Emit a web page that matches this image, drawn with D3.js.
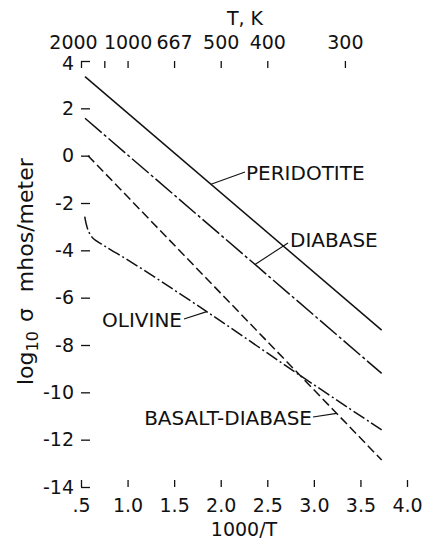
<!DOCTYPE html>
<html>
<head>
<meta charset="utf-8">
<script src="https://cdn.jsdelivr.net/npm/d3@7"></script>
<style>
  body { margin: 0; background: #fff; }
  svg text { font-family: "DejaVu Sans", sans-serif; fill: #111; }
  .axis path.domain { display: none; }
  .axis line { stroke: #111; stroke-width: 1.3; }
  .series { fill: none; stroke: #111; stroke-width: 1.5; }
</style>
</head>
<body>
<div id="chart"></div>
<script>
'use strict';

// series, x = 1000/T, y = log10 sigma
const peridotite = [[0.543, 3.34], [3.728, -7.37]];
const diabase = [[0.543, 1.58], [3.728, -9.20]];
const basaltDiabase = [[0.575, 0.0], [3.728, -12.86]];
const olivine = [
    [0.54, -2.58], [0.575, -3.14], [0.629, -3.49], [0.736, -3.77],
    [0.825, -3.99], [1.005, -4.41], [1.85, -6.59], [2.816, -9.19], [3.728, -11.59]
];

const xTicks = [0.5, 1.0, 1.5, 2.0, 2.5, 3.0, 3.5, 4.0];
const xTickLabels = ['.5', '1.0', '1.5', '2.0', '2.5', '3.0', '3.5', '4.0'];
const yTicks = [4, 2, 0, -2, -4, -6, -8, -10, -12, -14];
const topT = [2000, 1333, 1000, 667, 500, 400, 300];
const topTLabels = ['2000', '', '1000', '667', '500', '400', '300'];

const width = 422, height = 540;

const svg = d3.select('#chart').append('svg')
    .attr('width', width)
    .attr('height', height)
    .attr('viewBox', [0, 0, width, height]);

const x = d3.scaleLinear().domain([0.5, 4.0]).range([81, 407]);
const y = d3.scaleLinear().domain([-14, 4]).range([487, 61]);

// left axis: short inward ticks, no spine
svg.append('g')
    .attr('class', 'axis')
    .attr('transform', `translate(${x(0.5)}, 0)`)
    .call(d3.axisLeft(y).tickValues(yTicks).tickSize(-9).tickPadding(7)
        .tickFormat(d => String(d)))
    .call(g => g.selectAll('text').style('font-size', '19px').attr('font-family', null)
        .attr('dy', d => d === 4 ? '0.45em' : '0.32em'));

// bottom axis
svg.append('g')
    .attr('class', 'axis')
    .attr('transform', `translate(0, ${y(-14)})`)
    .call(d3.axisBottom(x).tickValues(xTicks).tickSize(-7).tickPadding(12)
        .tickFormat((d, i) => xTickLabels[i]))
    .call(g => g.selectAll('text').style('font-size', '19px').attr('font-family', null));

// top axis in temperature
svg.append('g')
    .attr('class', 'axis')
    .attr('transform', `translate(0, ${y(4)})`)
    .call(d3.axisTop(x).tickValues(topT.map(t => 1000 / t)).tickSize(-7).tickPadding(12)
        .tickFormat((d, i) => topTLabels[i]))
    .call(g => g.selectAll('text').style('font-size', '19px').attr('font-family', null)
        .attr('dx', (d, i) => i === 0 ? -8 : 0));

// axis titles
svg.append('text')
    .attr('x', 245).attr('y', 25)
    .attr('text-anchor', 'middle')
    .style('font-size', '19px')
    .text('T,  K');

svg.append('text')
    .attr('x', (x(0.5) + x(4.0)) / 2).attr('y', 536)
    .attr('text-anchor', 'middle')
    .style('font-size', '19px')
    .text('1000/T');

const ytitle = svg.append('text')
    .attr('transform', 'translate(33, 385) rotate(-90)')
    .style('font-size', '22px');
ytitle.append('tspan').text('log');
ytitle.append('tspan').attr('dy', 5).style('font-size', '16px').text('10');
ytitle.append('tspan').attr('dy', -5).attr('dx', 9).text('σ');
ytitle.append('tspan').attr('dx', 16).text('mhos/meter');

// lines
const line = d3.line()
    .x(d => x(d[0]))
    .y(d => y(d[1]));

const series = [
    {name: 'PERIDOTITE', values: peridotite, dash: null, curve: d3.curveLinear},
    {name: 'DIABASE', values: diabase, dash: '22,3,3,3', curve: d3.curveLinear},
    {name: 'BASALT-DIABASE', values: basaltDiabase, dash: '9,4', curve: d3.curveLinear},
    {name: 'OLIVINE', values: olivine, dash: '13,3,2,3', curve: d3.curveCatmullRom.alpha(0.5)}
];

svg.append('g')
    .selectAll('path')
    .data(series)
    .join('path')
        .attr('class', 'series')
        .attr('stroke-dasharray', d => d.dash)
        .attr('d', d => line.curve(d.curve)(d.values));

// labels with leader lines: point on series at data x, text anchor in pixels
const labels = [
    {name: 'PERIDOTITE', at: 1.896, tx: 246, ty: 180, lx: 245, ly: 172, anchor: 'start'},
    {name: 'DIABASE', at: 2.368, tx: 290, ty: 247, lx: 288, ly: 243, anchor: 'start'},
    {name: 'OLIVINE', at: 1.85, tx: 182, ty: 327, lx: 184, ly: 319, anchor: 'end'},
    {name: 'BASALT-DIABASE', at: 3.245, tx: 312, ty: 425, lx: 313, ly: 417, anchor: 'end'}
];

function valueAt(values, xv) {
    const i = Math.max(1, Math.min(values.length - 1, d3.bisector(d => d[0]).left(values, xv)));
    const a = values[i - 1], b = values[i];
    return a[1] + (b[1] - a[1]) * (xv - a[0]) / (b[0] - a[0]);
}

const lab = svg.append('g');
labels.forEach(l => {
    const s = series.find(d => d.name === l.name);
    lab.append('line')
        .attr('x1', x(l.at)).attr('y1', y(valueAt(s.values, l.at)))
        .attr('x2', l.lx).attr('y2', l.ly)
        .attr('stroke', '#111').attr('stroke-width', 1.1);
    lab.append('text')
        .attr('x', l.tx).attr('y', l.ty)
        .attr('text-anchor', l.anchor)
        .style('font-size', '20px')
        .text(l.name);
});
</script>
</body>
</html>
